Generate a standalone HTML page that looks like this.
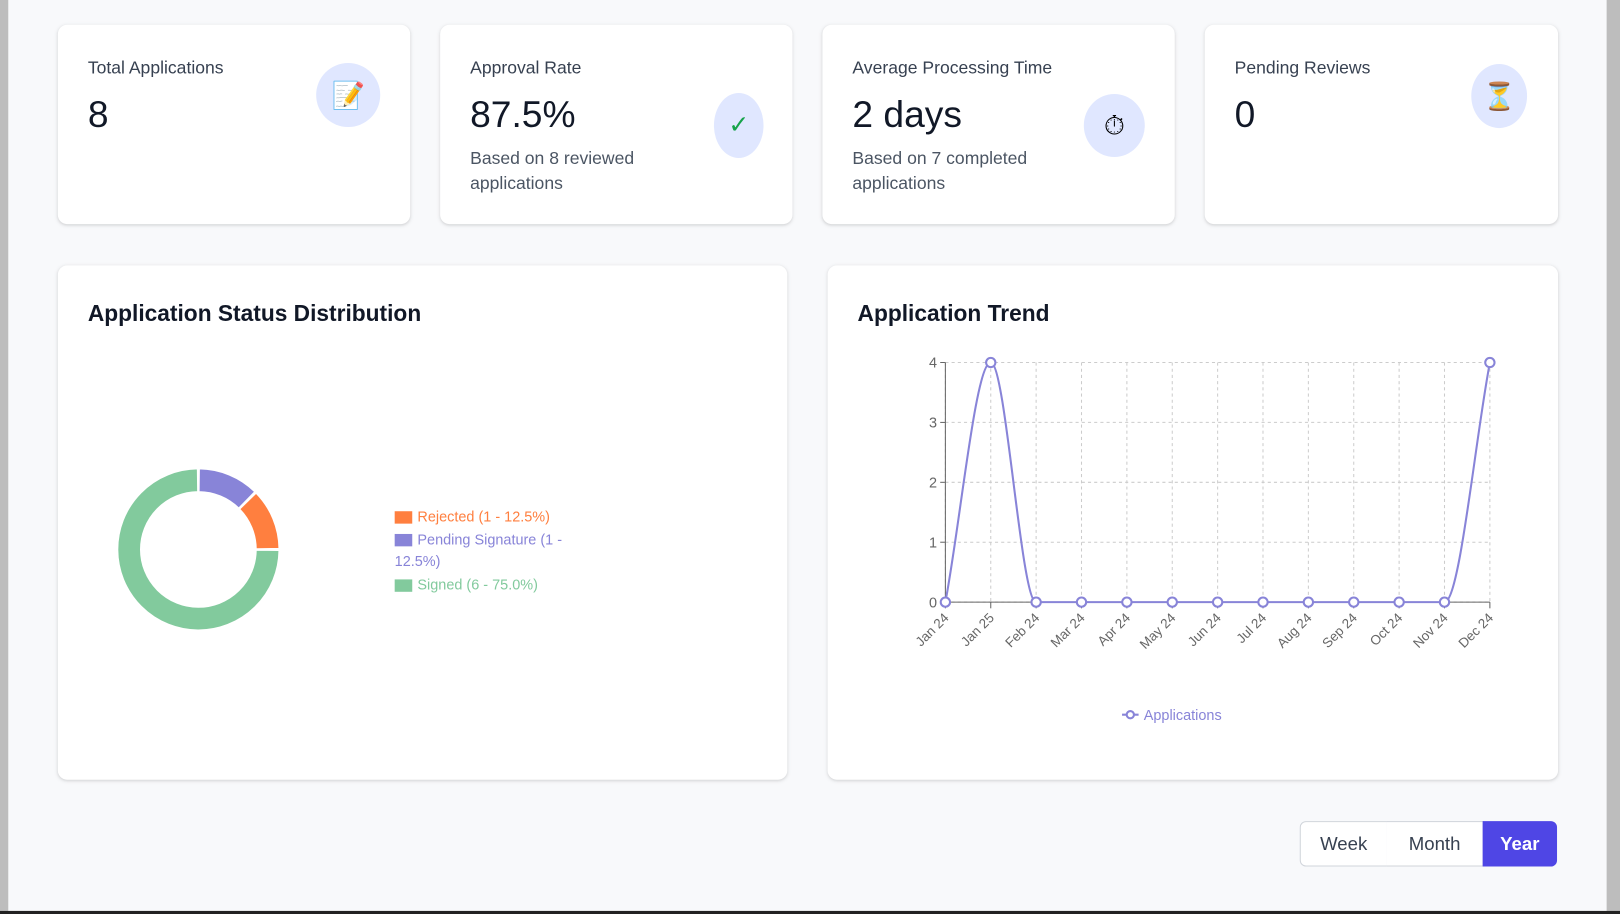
<!DOCTYPE html>
<html><head><meta charset="utf-8">
<style>
html,body{margin:0;padding:0;width:1620px;height:914px;overflow:hidden;background:#bdbdbd;font-family:"Liberation Sans",sans-serif;}
#wrap{position:absolute;left:0;top:0;width:1568px;height:885px;transform-origin:0 0;transform:scale(1.0332,1.0328);background:#bdbdbd;}
#page{position:absolute;left:8px;top:0;width:1547px;height:882px;background:#f8f9fb;}
.card{position:absolute;background:#fff;border-radius:9px;box-shadow:0 1px 4px rgba(0,0,0,0.10),0 1px 2px rgba(0,0,0,0.06);}
.ct{position:absolute;left:29px;top:32px;font-size:17px;color:#374151;}
.cv{position:absolute;left:29px;top:66px;font-size:36px;color:#111827;}
.cs{position:absolute;left:29px;top:118px;font-size:17px;color:#4b5563;line-height:24px;width:200px;}
.ic{position:absolute;background:#e0e7ff;border-radius:50%;display:flex;align-items:center;justify-content:center;font-size:26px;}
.h2{position:absolute;left:29px;top:34px;font-size:22px;color:#111827;font-weight:bold;}
.btn{position:absolute;top:795px;height:44px;display:flex;align-items:center;justify-content:center;font-size:18px;color:#374151;background:#fff;border:1px solid #d1d5db;box-sizing:border-box;}
</style></head><body>
<div id="wrap">
<div id="page"></div>
<div style="position:absolute;left:0;top:882px;width:1568px;height:3px;background:#222"></div>

<div class="card" style="left:56px;top:24px;width:341px;height:193px">
 <div class="ct">Total Applications</div>
 <div class="cv">8</div>
 <div class="ic" style="left:250px;top:37px;width:62px;height:62px">📝</div>
</div>
<div class="card" style="left:426px;top:24px;width:341px;height:193px">
 <div class="ct">Approval Rate</div>
 <div class="cv">87.5%</div>
 <div class="cs">Based on 8 reviewed applications</div>
 <div class="ic" style="left:265px;top:66px;width:48px;height:63px;color:#16a34a;font-size:24px">✓</div>
</div>
<div class="card" style="left:796px;top:24px;width:341px;height:193px">
 <div class="ct">Average Processing Time</div>
 <div class="cv">2 days</div>
 <div class="cs">Based on 7 completed applications</div>
 <div class="ic" style="left:253px;top:67px;width:59px;height:61px">⏱</div>
</div>
<div class="card" style="left:1166px;top:24px;width:342px;height:193px">
 <div class="ct">Pending Reviews</div>
 <div class="cv">0</div>
 <div class="ic" style="left:258px;top:38px;width:54px;height:62px">⏳</div>
</div>

<div class="card" style="left:56px;top:257px;width:706px;height:498px">
 <div class="h2">Application Status Distribution</div>
 <svg id="donut" style="position:absolute;left:0;top:0" width="706" height="498"></svg>
</div>
<div class="card" style="left:801px;top:257px;width:707px;height:498px">
 <div class="h2">Application Trend</div>
 <svg id="line" style="position:absolute;left:0;top:0" width="707" height="498"></svg>
</div>

<div class="btn" style="left:1258px;width:85px;border-radius:6px 0 0 6px">Week</div>
<div class="btn" style="left:1342px;width:94px;border-left:none">Month</div>
<div class="btn" style="left:1435px;width:72px;border-radius:0 6px 6px 0;background:#4f46e5;color:#fff;border-color:#4f46e5;font-weight:bold">Year</div>
</div>
<script>
const NS='http://www.w3.org/2000/svg';
function mk(p,t,a){const e=document.createElementNS(NS,t);for(const k in a)e.setAttribute(k,a[k]);p.appendChild(e);return e;}
// donut data
const statusLabels=['Pending Signature','Rejected','Signed'];
const statusCounts=[1,1,6];
const statusColors=['#8884d8','#ff7f3f','#82ca9d'];
const donut=document.getElementById('donut');
const cx=136,cy=275,R=78,r=56,gap=0.025;
const total=statusCounts.reduce((a,b)=>a+b,0);
let ang=0;
statusCounts.forEach((v,i)=>{
 const a0=ang+gap/2,a1=ang+v/total*2*Math.PI-gap/2;ang+=v/total*2*Math.PI;
 const P=(rad,a)=>[cx+rad*Math.sin(a),cy-rad*Math.cos(a)];
 const L=(a1-a0)>Math.PI?1:0;
 const [x0,y0]=P(R,a0),[x1,y1]=P(R,a1),[x2,y2]=P(r,a1),[x3,y3]=P(r,a0);
 const s=mk(donut,'path',{d:`M${x0},${y0}A${R},${R} 0 ${L} 1 ${x1},${y1}L${x2},${y2}A${r},${r} 0 ${L} 0 ${x3},${y3}Z`,fill:statusColors[i],stroke:'#fff','stroke-width':1});
 
 
});
// legend (order: Rejected, Pending, Signed)
const legOrder=[1,0,2];
const legLines=[['Rejected (1 - 12.5%)'],['Pending Signature (1 -','12.5%)'],['Signed (6 - 75.0%)']];
let ly=243;
legOrder.forEach((idx,j)=>{
 const g=mk(donut,'g',{});
 
 
 mk(g,'rect',{x:326,y:ly-5,width:17,height:12,fill:statusColors[idx]});
 legLines[j].forEach((t,k)=>{const tx=mk(g,'text',{x:k?326:348,y:ly+5+k*21,fill:statusColors[idx],'font-size':14,'font-family':'Liberation Sans,sans-serif'});tx.textContent=t;});
 ly+=22*legLines[j].length;
});
// line chart data
const months=['Jan 24','Jan 25','Feb 24','Mar 24','Apr 24','May 24','Jun 24','Jul 24','Aug 24','Sep 24','Oct 24','Nov 24','Dec 24'];
const apps=[0,4,0,0,0,0,0,0,0,0,0,0,4];
const yTicks=[0,1,2,3,4];
const svg=document.getElementById('line');
const X0=114,X1=641,Y0=326,Y1=94;
const xs=i=>X0+i*(X1-X0)/(months.length-1);
const ys=v=>Y0-v/4*(Y0-Y1);
yTicks.forEach(t=>{
 const l=mk(svg,'line',{x1:X0,x2:X1,y1:ys(t),y2:ys(t),stroke:'#ccc','stroke-dasharray':'3 3'});
 
 mk(svg,'line',{x1:X0-5,x2:X0,y1:ys(t),y2:ys(t),stroke:'#666'});
 const tx=mk(svg,'text',{x:X0-8,y:ys(t)+5,'text-anchor':'end',fill:'#666','font-size':14,'font-family':'Liberation Sans,sans-serif'});tx.textContent=t;
 
});
months.forEach((m,i)=>{
 const l=mk(svg,'line',{x1:xs(i),x2:xs(i),y1:Y1,y2:Y0,stroke:'#ccc','stroke-dasharray':'3 3'});
 
 mk(svg,'line',{x1:xs(i),x2:xs(i),y1:Y0,y2:Y0+6,stroke:'#666'});
 const tx=mk(svg,'text',{x:xs(i)+4,y:Y0+16,'text-anchor':'end',fill:'#666','font-size':13,'font-family':'Liberation Sans,sans-serif',transform:`rotate(-45 ${xs(i)+4} ${Y0+16})`});tx.textContent=m;
 
});
mk(svg,'line',{x1:X0,x2:X0,y1:Y1,y2:Y0,stroke:'#666'});
mk(svg,'line',{x1:X0,x2:X1,y1:Y0,y2:Y0,stroke:'#666'});
// monotone-ish smooth path
const pts=apps.map((v,i)=>[xs(i),ys(v)]);
let d=`M${pts[0][0]},${pts[0][1]}`;
const n=pts.length,sl=[];
for(let i=0;i<n;i++){
 const dl=i>0?(pts[i][1]-pts[i-1][1])/(pts[i][0]-pts[i-1][0]):null;
 const dr=i<n-1?(pts[i+1][1]-pts[i][1])/(pts[i+1][0]-pts[i][0]):null;
 if(dl===null)sl.push(dr);else if(dr===null)sl.push(dl);else sl.push(dl*dr<=0?0:(dl+dr)/2);
}
for(let i=0;i<n-1;i++){const h=(pts[i+1][0]-pts[i][0])/3;
 d+=`C${pts[i][0]+h},${pts[i][1]+sl[i]*h} ${pts[i+1][0]-h},${pts[i+1][1]-sl[i+1]*h} ${pts[i+1][0]},${pts[i+1][1]}`;}
const path=mk(svg,'path',{d,fill:'none',stroke:'#8884d8','stroke-width':2});

pts.forEach(p=>{const c=mk(svg,'circle',{cx:p[0],cy:p[1],r:4.5,fill:'#fff',stroke:'#8884d8','stroke-width':2});
 });
const lg=mk(svg,'g',{});

mk(lg,'line',{x1:285,x2:301,y1:435,y2:435,stroke:'#8884d8','stroke-width':2});
mk(lg,'circle',{cx:293,cy:435,r:3.5,fill:'#fff',stroke:'#8884d8','stroke-width':2});
const lt=mk(lg,'text',{x:306,y:440,fill:'#8884d8','font-size':14,'font-family':'Liberation Sans,sans-serif'});lt.textContent='Applications';
</script>
</body></html>
